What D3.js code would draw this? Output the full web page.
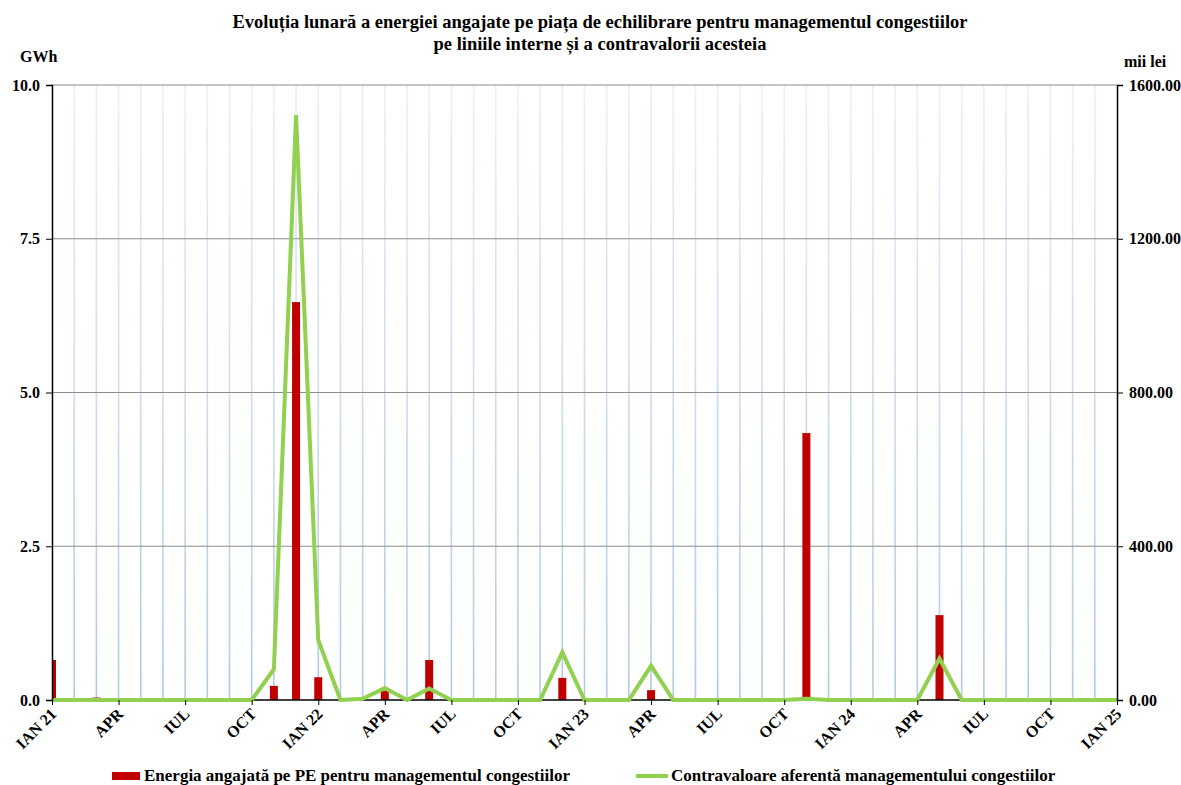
<!DOCTYPE html>
<html><head><meta charset="utf-8">
<script src="https://cdn.jsdelivr.net/npm/d3@7"></script>
<style>body{margin:0;background:#fff}svg{display:block;font-family:"Liberation Serif","Times New Roman",serif;font-weight:bold}</style>
</head><body><svg id="c" width="1181" height="785"></svg>
<script>
const months = ["IAN","FEB","MAR","APR","MAI","IUN","IUL","AUG","SEP","OCT","NOI","DEC"];
const years = ["21","22","23","24","25"];
const categories = [];
for (let y = 0; y < 4; y++) for (let m = 0; m < 12; m++) categories.push(months[m] + " " + years[y]);
categories.push("IAN 25");
// Energia (GWh)
const energy = [0.65,0,0.04,0,0,0,0,0,0,0,0.23,6.47,0.37,0,0,0.15,0,0.65,0,0,0,0,0,0.36,0,0,0,0.16,0,0,0,0,0,0,4.34,0,0,0,0,0,1.38,0,0,0,0,0,0,0,0];
// Contravaloare (mii lei)
const value = [0,0,0,0,0,0,0,0,0,0,80,1522,156,0,3,31,0,30,0,0,0,0,0,124,0,0,0,89,0,0,0,0,0,0,3,0,0,0,0,0,108,0,0,0,0,0,0,0,0];
const leftTicks = [0,2.5,5,7.5,10];
const rightTicks = [0,400,800,1200,1600];
const title = ["Evoluția lunară a energiei angajate pe piața de echilibrare pentru managementul congestiilor","pe liniile interne și a contravalorii acesteia"];
const legendLabels = ["Energia angajată pe PE pentru managementul congestiilor","Contravaloare aferentă managementului congestiilor"];

const FF = "'Liberation Serif','Times New Roman',serif";
const svg = d3.select("#c");
const L = 52, R = 1117, T = 85, B = 700;
const x = d3.scalePoint().domain(categories).range([L, R]);
const yL = d3.scaleLinear().domain([0,10]).range([B,T]);
const yR = d3.scaleLinear().domain([0,1600]).range([B,T]);

const defs = svg.append("defs");
const g = defs.append("linearGradient").attr("id","vg").attr("gradientUnits","userSpaceOnUse")
  .attr("x1",0).attr("y1",T).attr("x2",0).attr("y2",B);
g.append("stop").attr("offset","0").attr("stop-color","#e9f0f9");
g.append("stop").attr("offset","1").attr("stop-color","#b3c9e4");
defs.append("clipPath").attr("id","clip").append("rect").attr("x",L).attr("y",T-20).attr("width",R-L).attr("height",B-T+20);

// vertical gridlines
svg.append("g").selectAll("line").data(categories.slice(1,-1)).join("line")
  .attr("x1",d=>x(d)).attr("x2",d=>x(d)).attr("y1",T).attr("y2",B)
  .attr("stroke","url(#vg)").attr("stroke-width",1.6);
// horizontal gridlines
svg.append("g").selectAll("line").data(leftTicks.slice(1)).join("line")
  .attr("x1",L).attr("x2",R).attr("y1",d=>yL(d)).attr("y2",d=>yL(d))
  .attr("stroke","#8c8c8c").attr("stroke-width",1.2);

// bars
const bw = 8;
svg.append("g").attr("clip-path","url(#clip)").selectAll("rect").data(categories.map((c,i)=>({c,v:energy[i]})).filter(d=>d.v>0)).join("rect")
  .attr("x",d=>x(d.c)-bw/2).attr("width",bw).attr("y",d=>yL(d.v)).attr("height",d=>B-yL(d.v))
  .attr("fill","#c00000");

// x axis line
svg.append("line").attr("x1",L).attr("x2",R).attr("y1",B).attr("y2",B).attr("stroke","#000").attr("stroke-width",1.5);

// line
svg.append("path").datum(value)
  .attr("d", d3.line().x((d,i)=>x(categories[i])).y(d=>yR(d)))
  .attr("fill","none").attr("stroke","#92d050").attr("stroke-width",4).attr("stroke-linejoin","miter");

function styleText(sel, size){ sel.attr("font-size",size).attr("font-family",FF).attr("font-weight","bold").attr("fill","#000"); }
// left axis
const la = svg.append("g").attr("transform",`translate(${L},0)`)
  .call(d3.axisLeft(yL).tickValues(leftTicks).tickFormat(d3.format(".1f")).tickSize(6).tickPadding(6));
la.select(".domain").attr("stroke","#000").attr("stroke-width",1.5);
styleText(la.selectAll("text"),16);
// right axis
const ra = svg.append("g").attr("transform",`translate(${R},0)`)
  .call(d3.axisRight(yR).tickValues(rightTicks).tickFormat(d3.format(".2f")).tickSize(6).tickPadding(6));
ra.select(".domain").attr("stroke","#000").attr("stroke-width",1.5);
styleText(ra.selectAll("text"),16);
// bottom axis
const qt = categories.filter((c,i)=>i%3===0);
const xa = svg.append("g").attr("transform",`translate(0,${B})`)
  .call(d3.axisBottom(x).tickValues(qt).tickSize(5).tickFormat(c=>c.startsWith("IAN")?c:c.split(" ")[0]));
xa.select(".domain").remove();
xa.selectAll(".tick line").attr("stroke","#000");
styleText(xa.selectAll("text"),16);
xa.selectAll("text").attr("text-anchor","end").attr("dy",0).attr("y",0)
  .attr("transform","translate(5,15) rotate(-45)");

// titles
styleText(svg.append("g").selectAll("text").data(title).join("text")
  .attr("x",600).attr("y",(d,i)=>28+i*22).attr("text-anchor","middle").text(d=>d),18.5);
styleText(svg.append("text").attr("x",20).attr("y",62).text("GWh"),16);
styleText(svg.append("text").attr("x",1124).attr("y",67).text("mii lei"),16);

// legend
svg.append("rect").attr("x",112).attr("y",772).attr("width",28).attr("height",8).attr("fill","#c00000");
styleText(svg.append("text").attr("x",144).attr("y",781).text(legendLabels[0]),17);
svg.append("line").attr("x1",636).attr("x2",668).attr("y1",776).attr("y2",776).attr("stroke","#92d050").attr("stroke-width",4);
styleText(svg.append("text").attr("x",671).attr("y",781).text(legendLabels[1]),17);
</script></body></html>
